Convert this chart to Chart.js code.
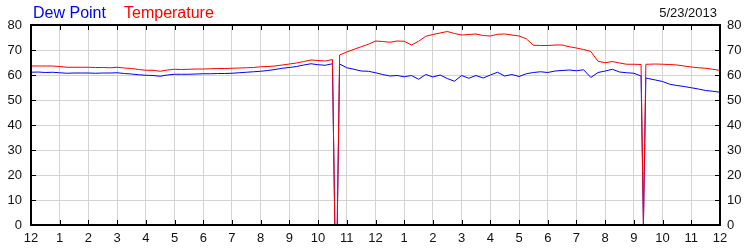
<!DOCTYPE html>
<html>
<head>
<meta charset="utf-8">
<script src="https://cdn.jsdelivr.net/npm/chart.js@4"></script>
<style>
  body { margin: 0; background: #fff; }
  canvas { display: block; }
</style>
</head>
<body>
<canvas id="chart" width="750" height="250"></canvas>
<script>
// Dados (hora do dia, 0 = meia-noite)
const hours = [
  0, 0.25, 0.5, 0.75, 1, 1.25, 1.5, 1.75, 2, 2.25, 2.5, 2.75,
  3, 3.25, 3.5, 3.75, 4, 4.25, 4.5, 4.75, 5, 5.25, 5.5, 5.75,
  6, 6.25, 6.5, 6.75, 7, 7.25, 7.5, 7.75, 8, 8.25, 8.5, 8.75,
  9, 9.25, 9.5, 9.75, 10, 10.25, 10.5, 10.583, 10.667, 10.75,
  11, 11.25, 11.5, 11.75, 12, 12.25, 12.5, 12.75, 13, 13.25, 13.5, 13.75,
  14, 14.25, 14.5, 14.75, 15, 15.25, 15.5, 15.75, 16, 16.25, 16.5, 16.75,
  17, 17.25, 17.5, 17.75, 18, 18.25, 18.5, 18.75, 19, 19.25, 19.5, 19.75,
  20, 20.25, 20.5, 20.75, 21, 21.25, 21.333, 21.417, 21.5, 21.75,
  22, 22.25, 22.5, 22.75, 23, 23.25, 23.5, 23.75, 24
];

const temperature = [
  63.6, 63.6, 63.6, 63.6, 63.4, 63.1, 63.1, 63.1, 63.1, 63.0, 63.0, 62.9,
  63.1, 62.8, 62.6, 62.2, 61.9, 61.9, 61.5, 62.0, 62.3, 62.2, 62.3, 62.4,
  62.4, 62.5, 62.6, 62.6, 62.7, 62.8, 62.9, 63.0, 63.3, 63.4, 63.6, 64.0,
  64.4, 64.8, 65.4, 66.0, 65.8, 65.6, 66.2, 0, 0, 68.0,
  69.2, 70.3, 71.3, 72.3, 73.6, 73.4, 73.1, 73.6, 73.5, 72.0, 73.5, 75.5,
  76.2, 76.8, 77.4, 76.6, 76.0, 76.2, 76.4, 75.8, 75.6, 76.3, 76.4, 76.0,
  75.6, 74.5, 71.9, 71.8, 71.8, 72.0, 72.0, 71.3, 70.8, 70.2, 69.4, 65.5,
  64.9, 65.4, 64.8, 64.3, 64.3, 64.2, 0, 64.3, 64.3, 64.4,
  64.3, 64.2, 64.0, 63.6, 63.2, 62.9, 62.7, 62.3, 61.8
];

const dewPoint = [
  61.1, 61.2, 61.0, 61.1, 60.9, 60.7, 60.8, 60.8, 60.8, 60.7, 60.8, 60.8,
  60.9, 60.6, 60.4, 60.1, 59.9, 59.8, 59.5, 60.0, 60.3, 60.3, 60.3, 60.4,
  60.5, 60.5, 60.6, 60.6, 60.7, 60.9, 61.1, 61.3, 61.5, 61.8, 62.2, 62.7,
  63.0, 63.4, 64.0, 64.5, 64.1, 63.9, 64.5, 0, 0, 64.4,
  62.9, 62.3, 61.6, 61.5, 60.9, 60.2, 59.6, 59.8, 59.3, 59.8, 58.3, 60.2,
  59.2, 60.0, 58.6, 57.5, 59.8, 58.7, 59.8, 58.8, 60.0, 61.1, 59.6, 60.2,
  59.4, 60.5, 61.0, 61.3, 61.0, 61.6, 61.8, 62.0, 61.7, 62.1, 59.0, 61.0,
  61.6, 62.3, 61.2, 60.9, 60.7, 59.6, 0, 58.8, 58.6, 58.0,
  57.4, 56.3, 55.8, 55.4, 54.9, 54.4, 53.8, 53.5, 53.1
];

const hourLabels = ['12', '1', '2', '3', '4', '5', '6', '7', '8', '9', '10', '11',
  '12', '1', '2', '3', '4', '5', '6', '7', '8', '9', '10', '11', '12'];
const dateLabel = '5/23/2013';

const toPoints = vals => vals.map((v, i) => ({ x: hours[i], y: v }));

const font = { family: 'Liberation Sans', size: 13 };

// Moldura, marcas internas, legenda e data
const frame = {
  id: 'frame',
  afterDraw(chart) {
    const { ctx, chartArea: a, scales } = chart;
    ctx.save();
    ctx.strokeStyle = '#000';
    ctx.lineWidth = 1;
    ctx.beginPath();
    for (let h = 1; h < 24; h++) {
      const x = Math.round(scales.x.getPixelForValue(h)) + 0.5;
      ctx.moveTo(x, a.top); ctx.lineTo(x, a.top + 5);
      ctx.moveTo(x, a.bottom); ctx.lineTo(x, a.bottom - 5);
    }
    for (let v = 10; v < 80; v += 10) {
      const y = Math.round(scales.y.getPixelForValue(v)) + 0.5;
      ctx.moveTo(a.left, y); ctx.lineTo(a.left + 5, y);
      ctx.moveTo(a.right, y); ctx.lineTo(a.right - 5, y);
    }
    ctx.stroke();
    ctx.lineWidth = 2;
    ctx.strokeRect(a.left, a.top, a.right - a.left, a.bottom - a.top);

    ctx.textBaseline = 'alphabetic';
    ctx.font = '16px "Liberation Sans"';
    ctx.textAlign = 'left';
    ctx.fillStyle = '#0000ff';
    ctx.fillText('Dew Point', 33, 18);
    ctx.fillStyle = '#ff0000';
    ctx.fillText('Temperature', 124, 18);
    ctx.font = '13px "Liberation Sans"';
    ctx.fillStyle = '#111';
    ctx.textAlign = 'right';
    ctx.fillText(dateLabel, 717, 17);
    ctx.restore();
  }
};

const ctx = document.getElementById('chart').getContext('2d');
const chart = new Chart(ctx, {
  type: 'line',
  data: {
    datasets: [{
      label: 'Temperature',
      data: toPoints(temperature),
      borderColor: '#ff0000',
      borderWidth: 1,
      pointRadius: 0,
      tension: 0
    }, {
      label: 'Dew Point',
      data: toPoints(dewPoint),
      borderColor: '#0000ff',
      borderWidth: 1,
      pointRadius: 0,
      tension: 0
    }]
  },
  options: {
    responsive: false,
    animation: false,
    devicePixelRatio: 1,
    layout: { padding: { top: 25, left: 0, right: 0, bottom: 0 } },
    plugins: { legend: { display: false }, tooltip: { enabled: false } },
    scales: {
      x: {
        type: 'linear',
        min: 0,
        max: 24,
        afterFit: s => { s.height = 25; },
        ticks: {
          stepSize: 1,
          autoSkip: false,
          maxRotation: 0,
          padding: 6,
          color: '#111',
          font: font,
          callback: (v, i) => hourLabels[i]
        },
        grid: { color: '#d3d3d3', drawTicks: false },
        border: { display: false }
      },
      y: {
        position: 'left',
        min: 0,
        max: 80,
        afterFit: s => { s.width = 31; },
        ticks: { stepSize: 10, padding: 9, color: '#111', font: font },
        grid: { color: '#d3d3d3', drawTicks: false },
        border: { display: false }
      },
      y2: {
        position: 'right',
        min: 0,
        max: 80,
        afterFit: s => { s.width = 30; },
        ticks: { stepSize: 10, padding: 7, color: '#111', font: font },
        grid: { drawOnChartArea: false, drawTicks: false },
        border: { display: false }
      }
    }
  },
  plugins: [frame]
});
</script>
</body>
</html>
